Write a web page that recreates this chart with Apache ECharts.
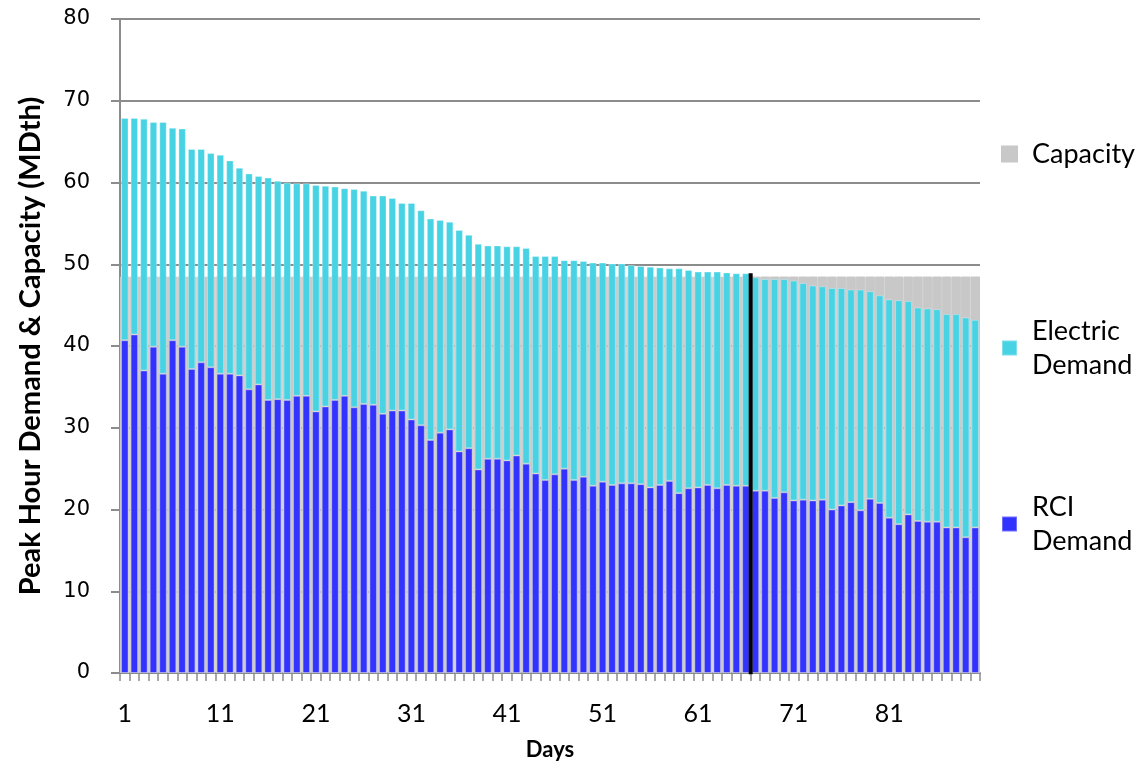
<!DOCTYPE html>
<html>
<head>
<meta charset="utf-8">
<script src="https://cdn.jsdelivr.net/npm/echarts@6/dist/echarts.min.js"></script>
<style>
html,body{margin:0;padding:0;background:#fff;}
#chart{width:1136px;height:766px;}
</style>
</head>
<body>
<div id="chart"></div>
<script>
const days = Array.from({length: 90}, (_, i) => String(i + 1));

const rciDemand = [
  40.7, 41.4, 37.0, 39.9, 36.6, 40.7, 39.9, 37.2, 38.0, 37.4,
  36.6, 36.6, 36.4, 34.7, 35.3, 33.4, 33.5, 33.4, 33.9, 33.9,
  32.0, 32.6, 33.4, 33.9, 32.5, 32.9, 32.8, 31.7, 32.1, 32.1,
  31.0, 30.3, 28.5, 29.4, 29.8, 27.1, 27.5, 24.9, 26.2, 26.2,
  26.0, 26.6, 25.6, 24.4, 23.6, 24.3, 25.0, 23.6, 24.0, 22.9,
  23.4, 23.0, 23.2, 23.2, 23.1, 22.7, 23.0, 23.5, 22.0, 22.6,
  22.7, 23.0, 22.6, 23.0, 22.9, 22.9, 22.3, 22.3, 21.4, 22.1,
  21.1, 21.2, 21.1, 21.2, 20.0, 20.5, 20.9, 19.9, 21.3, 20.8,
  19.0, 18.2, 19.4, 18.6, 18.5, 18.5, 17.8, 17.8, 16.6, 17.8
];

const electricDemand = [
  27.2, 26.5, 30.8, 27.5, 30.8, 26.0, 26.7, 26.9, 26.1, 26.2,
  26.8, 26.1, 25.4, 26.4, 25.5, 27.2, 26.7, 26.6, 26.0, 26.0,
  27.7, 27.0, 26.1, 25.4, 26.7, 26.1, 25.6, 26.7, 26.0, 25.4,
  26.5, 26.3, 27.1, 26.0, 25.4, 27.1, 26.1, 27.6, 26.1, 26.1,
  26.2, 25.6, 26.4, 26.6, 27.4, 26.7, 25.5, 26.9, 26.4, 27.3,
  26.8, 27.1, 26.9, 26.7, 26.7, 27.0, 26.6, 26.0, 27.5, 26.7,
  26.4, 26.1, 26.5, 26.0, 26.0, 26.0, 26.1, 25.9, 26.8, 26.1,
  26.9, 26.5, 26.3, 26.1, 27.1, 26.6, 26.0, 27.0, 25.4, 25.4,
  26.7, 27.4, 26.1, 26.1, 26.1, 26.0, 26.1, 26.1, 26.9, 25.4
];

const capacity = [
  48.5, 48.5, 48.5, 48.5, 48.5, 48.5, 48.5, 48.5, 48.5, 48.5,
  48.5, 48.5, 48.5, 48.5, 48.5, 48.5, 48.5, 48.5, 48.5, 48.5,
  48.5, 48.5, 48.5, 48.5, 48.5, 48.5, 48.5, 48.5, 48.5, 48.5,
  48.5, 48.5, 48.5, 48.5, 48.5, 48.5, 48.5, 48.5, 48.5, 48.5,
  48.5, 48.5, 48.5, 48.5, 48.5, 48.5, 48.5, 48.5, 48.5, 48.5,
  48.5, 48.5, 48.5, 48.5, 48.5, 48.5, 48.5, 48.5, 48.5, 48.5,
  48.5, 48.5, 48.5, 48.5, 48.5, 48.5, 48.5, 48.5, 48.5, 48.5,
  48.5, 48.5, 48.5, 48.5, 48.5, 48.5, 48.5, 48.5, 48.5, 48.5,
  48.5, 48.5, 48.5, 48.5, 48.5, 48.5, 48.5, 48.5, 48.5, 48.5
];

// vertical marker: boundary after day 66, from 0 up to top of that bar
const markerLine = [[66, -0.15], [66, 48.9]];

const yTicks = { min: 0, max: 80, interval: 10 };

const C_RCI = '#3333FF';
const C_ELEC = '#48D3E4';
const C_CAP = '#C8C8C8';
const GRAYLINE = '#8C8C8C';
const LABEL_FONT = 'Lato, "Open Sans", sans-serif';

const chart = echarts.init(document.getElementById('chart'), null, {renderer: 'canvas'});

const legendText = { fontFamily: LABEL_FONT, fontSize: 27, color: '#000', lineHeight: 34, padding: [0, 0, 0, 10] };
const legendBase = {
  orient: 'vertical',
  left: 996,
  icon: 'rect',
  itemWidth: 15,
  itemHeight: 15,
  itemGap: 10,
  selectedMode: false,
  textStyle: legendText
};

chart.setOption({
  animation: false,
  backgroundColor: '#fff',
  grid: { left: 120, right: 156, top: 19, bottom: 93, containLabel: false },
  legend: [
    Object.assign({}, legendBase, { top: 132, data: ['Capacity'] }),
    Object.assign({}, legendBase, { top: 292, data: ['Electric Demand'],
      formatter: () => 'Electric\nDemand',
      textStyle: Object.assign({}, legendText, { padding: [34, 0, 0, 10] }) }),
    Object.assign({}, legendBase, { top: 468, data: ['RCI Demand'],
      formatter: () => 'RCI\nDemand',
      textStyle: Object.assign({}, legendText, { padding: [34, 0, 0, 10] }) })
  ],
  xAxis: [
    {
      type: 'category',
      data: days,
      name: 'Days',
      nameLocation: 'middle',
      nameGap: 66,
      nameTextStyle: { fontFamily: LABEL_FONT, fontWeight: 'bold', fontSize: 22, color: '#000' },
      axisLine: { lineStyle: { color: GRAYLINE, width: 2 } },
      axisTick: { show: true, interval: 0, length: 8, lineStyle: { color: GRAYLINE, width: 1.5 } },
      axisLabel: { interval: 9, margin: 28, fontFamily: LABEL_FONT, fontSize: 25, color: '#000' },
      splitLine: { show: false }
    },
    {
      type: 'category',
      data: days,
      show: false
    },
    {
      type: 'value',
      min: 0,
      max: 90,
      show: false
    }
  ],
  yAxis: {
    type: 'value',
    min: yTicks.min,
    max: yTicks.max,
    interval: yTicks.interval,
    name: 'Peak Hour Demand & Capacity (MDth)',
    nameLocation: 'middle',
    nameRotate: 90,
    nameGap: 75,
    nameTextStyle: { fontFamily: LABEL_FONT, fontWeight: 'bold', fontSize: 29, color: '#000' },
    axisLine: { show: true, lineStyle: { color: GRAYLINE, width: 2 } },
    axisTick: { show: true, length: 9, lineStyle: { color: GRAYLINE, width: 2 } },
    axisLabel: { margin: 30, fontFamily: '"DejaVu Sans", sans-serif', fontSize: 21, color: '#000' },
    splitLine: { show: true, lineStyle: { color: GRAYLINE, width: 2 } }
  },
  series: [
    {
      name: 'Capacity',
      type: 'bar',
      xAxisIndex: 1,
      data: capacity,
      barWidth: '100%',
      itemStyle: { color: C_CAP, borderColor: C_CAP, borderWidth: 1 },
      z: 1,
      silent: true
    },
    {
      name: 'RCI Demand',
      type: 'bar',
      stack: 'demand',
      xAxisIndex: 0,
      data: rciDemand,
      barCategoryGap: '22%',
      itemStyle: { color: C_RCI, borderColor: 'rgba(255,255,255,0.3)', borderWidth: 1 },
      z: 2
    },
    {
      name: 'Electric Demand',
      type: 'bar',
      stack: 'demand',
      xAxisIndex: 0,
      data: electricDemand,
      barCategoryGap: '22%',
      itemStyle: { color: C_ELEC, borderColor: 'rgba(255,255,255,0.3)', borderWidth: 1 },
      z: 2
    },
    {
      name: 'marker',
      type: 'line',
      xAxisIndex: 2,
      data: markerLine,
      symbol: 'none',
      clip: false,
      lineStyle: { color: '#000', width: 4, cap: 'butt' },
      z: 5,
      silent: true
    }
  ]
});
</script>
</body>
</html>
